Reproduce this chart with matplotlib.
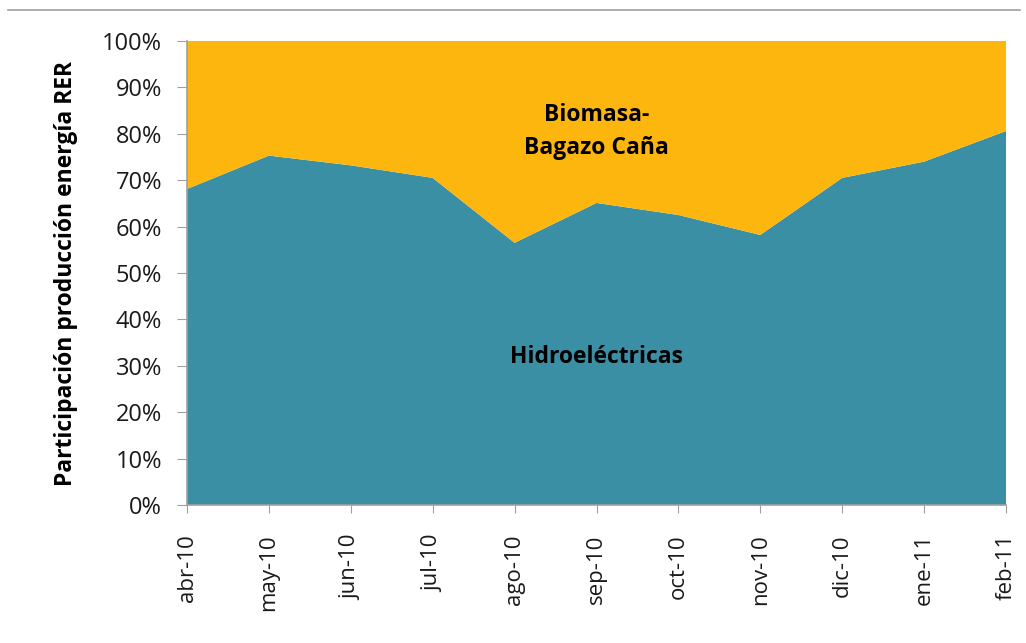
import numpy as np
import matplotlib.pyplot as plt
import matplotlib.ticker as ticker

plt.rcParams['font.family'] = ['Open Sans', 'DejaVu Sans']

months = ['abr-10', 'may-10', 'jun-10', 'jul-10', 'ago-10', 'sep-10',
          'oct-10', 'nov-10', 'dic-10', 'ene-11', 'feb-11']
hidro = [68.1, 75.3, 73.2, 70.5, 56.5, 65.1, 62.5, 58.2, 70.5, 74.0, 80.6]
biomasa = [100 - h for h in hidro]

TEAL = '#3A8FA5'
GOLD = '#FDB60E'

fig = plt.figure(figsize=(10.26, 6.43), dpi=100)
ax = fig.add_axes([187 / 1026, 1 - 505 / 643, (1006 - 187) / 1026, (505 - 41) / 643])

x = np.arange(len(months))
ax.stackplot(x, hidro, biomasa, colors=[TEAL, GOLD], linewidth=0)

ax.set_xlim(0, len(months) - 1)
ax.set_ylim(0, 100)
ax.set_xticks(x)
ax.set_xticklabels(months, rotation=90, fontsize=16, color='#1a1a1a')
ax.set_yticks(np.arange(0, 101, 10))
ax.yaxis.set_major_formatter(ticker.PercentFormatter(decimals=0))
ax.tick_params(axis='y', labelsize=17, labelcolor='#1a1a1a', length=7,
               color='#A0A0A0', pad=11)
ax.tick_params(axis='x', length=6, color='#A0A0A0', pad=15)

for side in ['top', 'right']:
    ax.spines[side].set_visible(False)
for side in ['left', 'bottom']:
    ax.spines[side].set_color('#A0A0A0')
    ax.spines[side].set_linewidth(1.2)

ax.set_ylabel('Participación producción energía RER', fontsize=16.5,
              fontweight='bold')
ax.yaxis.set_label_coords(-109 / 819, 0.5)

ax.text(5, 80.5, 'Biomasa-\nBagazo Caña', ha='center', va='center',
        fontsize=16.5, fontweight='bold', linespacing=1.45)
ax.text(5, 32, 'Hidroeléctricas', ha='center', va='center',
        fontsize=16.5, fontweight='bold')

# thin grey rule at the top of the figure
fig.add_artist(plt.Line2D([8 / 1026, 1020 / 1026], [1 - 10 / 643, 1 - 10 / 643],
                          color='#A0A0A0', linewidth=1.2))

fig.savefig('out.png', dpi=100)
